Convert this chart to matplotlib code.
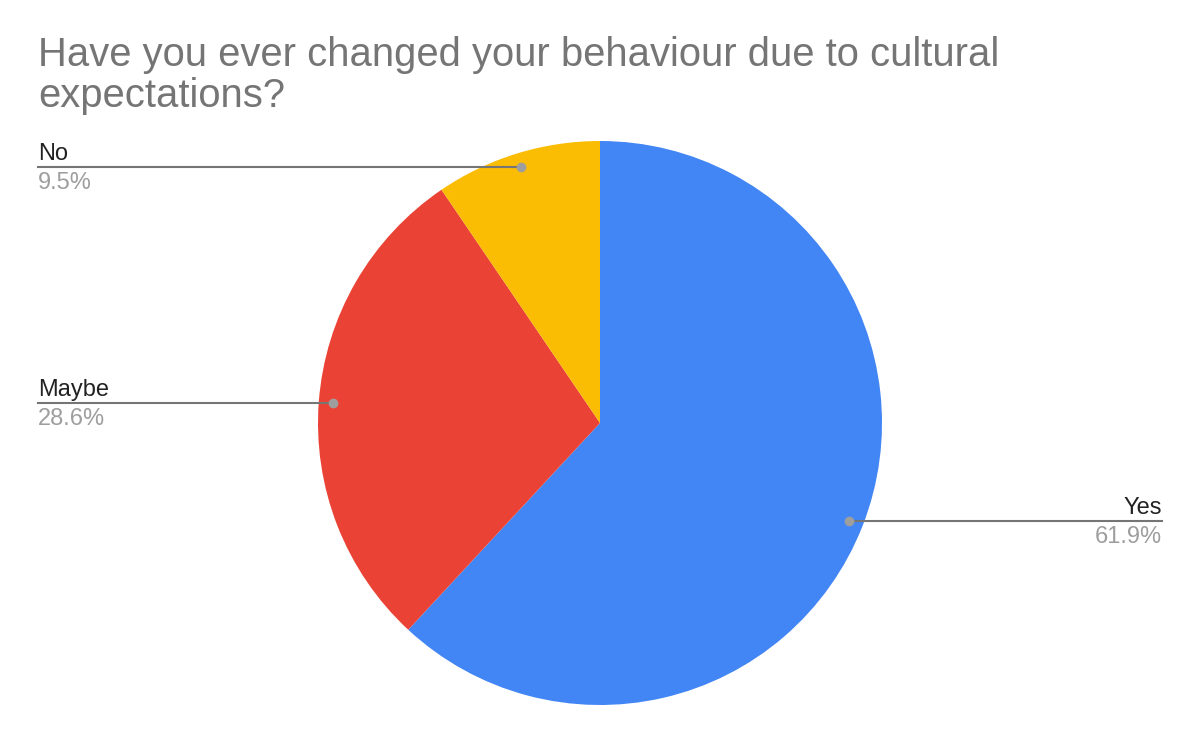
import numpy as np
import matplotlib
matplotlib.use("Agg")
import matplotlib.pyplot as plt

categories = ["Yes", "Maybe", "No"]
values = [61.9, 28.6, 9.5]
colors = ["#4285F4", "#EA4335", "#FBBC04"]
title = "Have you ever changed your behaviour due to cultural\nexpectations?"

plt.rcParams['font.family'] = ['Liberation Sans', 'DejaVu Sans']

W, H = 1200, 742
fig = plt.figure(figsize=(W / 100, H / 100), dpi=100)
ax = fig.add_axes([0, 0, 1, 1])

cx, cy, R = 600, H - 423, 282
wedges, _ = ax.pie(values, colors=colors, startangle=90, counterclock=False,
                   center=(cx, cy), radius=R, frame=True,
                   wedgeprops=dict(linewidth=0))
ax.set_xlim(0, W)
ax.set_ylim(0, H)
ax.set_aspect('equal')
ax.axis('off')

total = sum(values)
start = 90.0
left_x, right_x = 38, 1162
fs = 17
for cat, v in zip(categories, values):
    span = 360 * v / total
    mid = np.deg2rad(start - span / 2)
    start -= span
    px = cx + 0.95 * R * np.cos(mid)
    py = cy + 0.95 * R * np.sin(mid)
    if np.cos(mid) >= 0:
        ax.plot([px, right_x], [py, py], color="#757575", lw=1.5, zorder=3)
        ax.text(right_x, py + 7, cat, ha='right', va='baseline', fontsize=fs, color="#222222")
        ax.text(right_x, py - 5, f"{v}%", ha='right', va='top', fontsize=fs, color="#9e9e9e")
    else:
        ax.plot([left_x, px], [py, py], color="#757575", lw=1.5, zorder=3)
        ax.text(left_x, py + 7, cat, ha='left', va='baseline', fontsize=fs, color="#222222")
        ax.text(left_x, py - 5, f"{v}%", ha='left', va='top', fontsize=fs, color="#9e9e9e")
    ax.plot([px], [py], 'o', color="#9e9e9e", ms=6, zorder=4)

fig.text(38 / W, 1 - 36 / H, title, ha='left', va='top', fontsize=28.8, color="#757575",
         linespacing=1.1)

fig.savefig("out.png", dpi=100, facecolor="white")
